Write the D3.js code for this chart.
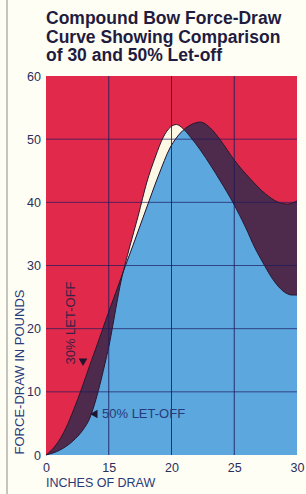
<!DOCTYPE html>
<html>
<head>
<meta charset="utf-8">
<script src="https://cdn.jsdelivr.net/npm/d3@7"></script>
<style>
  html, body { margin: 0; padding: 0; background: #fffef4; }
  svg { display: block; }
  text { font-family: "Liberation Sans", Arial, Helvetica, sans-serif; }
</style>
</head>
<body>
<svg id="chart" width="306" height="494"></svg>
<script>
// ---- data ----
const titleLines = ["Compound Bow Force-Draw", "Curve Showing Comparison", "of 30 and 50% Let-off"];
const xTicks = [0, 15, 20, 25, 30];
const yTicks = [0, 10, 20, 30, 40, 50, 60];

// 30% let-off curve (inches of draw, pounds)
const draw30  = [0, 2.38, 4.76, 6.67, 8.57, 10.48, 12.38, 14.29, 15.4, 15.89, 16.29, 16.94, 17.98, 18.95, 19.92, 20.71, 21.51, 22.3, 23.1, 23.89, 25.0, 26.29, 27.5, 28.47, 29.27, 30];
const force30 = [0, 1.58, 4.27, 7.28, 10.61, 14.25, 17.73, 21.37, 24.85, 27.54, 29.76, 33.24, 38.94, 44.17, 48.76, 50.97, 52.24, 52.71, 51.76, 49.87, 46.7, 43.69, 41.32, 40.05, 39.73, 40.21];

// 50% let-off curve
const draw50  = [0, 3.33, 6.43, 8.81, 10.48, 11.9, 13.1, 14.29, 15.08, 15.4, 15.73, 16.05, 16.29, 16.69, 17.34, 18.04, 18.71, 19.35, 19.92, 20.4, 20.95, 21.51, 22.3, 23.1, 23.89, 24.92, 25.89, 26.69, 27.26, 27.9, 28.55, 29.11, 29.6, 30];
const force50 = [0, 0.79, 2.22, 3.96, 5.86, 8.71, 11.71, 15.04, 17.89, 21.37, 25.01, 28.18, 30.08, 33.09, 37.83, 43.22, 47.17, 50.34, 51.92, 52.32, 51.61, 50.34, 48.28, 45.9, 43.38, 39.89, 36.09, 32.61, 30.55, 28.34, 26.6, 25.65, 25.33, 25.33];

const yLabel = "FORCE-DRAW IN POUNDS";
const xLabel = "INCHES OF DRAW";
const label30 = "30% LET-OFF";
const label50 = "50% LET-OFF";

// ---- layout ----
const svg = d3.select("#chart");
const pLeft = 46, pRight = 297, pTop = 76, pBottom = 455;
const step = (pRight - pLeft) / (xTicks.length - 1);

const x = d3.scaleLinear().domain(xTicks).range(xTicks.map((d, i) => pLeft + i * step));
const y = d3.scaleLinear().domain([0, 60]).range([pBottom, pTop]);

const C = {
  red: "#e12a4b", blue: "#5ba7de", purple: "#4e2a4c", white: "#fdf8e4",
  grid: "#1e1a5c", ink: "#1f1c40", outline: "#2a1830"
};

const pts30 = draw30.map((d, i) => [d, force30[i]]);
const pts50 = draw50.map((d, i) => [d, force50[i]]);

// left page border
svg.append("line").attr("x1", 7).attr("x2", 7).attr("y1", 0).attr("y2", 494)
  .attr("stroke", "#8c8c88").attr("stroke-width", 1);

// title
svg.append("g").selectAll("text").data(titleLines).join("text")
  .attr("x", 46).attr("y", (d, i) => 24 + i * 18.5)
  .attr("font-size", 17.5).attr("font-weight", "bold").attr("fill", C.ink)
  .text(d => d);

// plot background
svg.append("rect").attr("x", pLeft).attr("y", pTop)
  .attr("width", pRight - pLeft).attr("height", pBottom - pTop).attr("fill", C.red);

const area = d3.area().x(d => x(d[0])).y0(y(0)).y1(d => y(d[1])).curve(d3.curveMonotoneX);
const line = d3.line().x(d => x(d[0])).y(d => y(d[1])).curve(d3.curveMonotoneX);

const defs = svg.append("defs");
defs.append("clipPath").attr("id", "under30").append("path").attr("d", area(pts30));

svg.append("path").attr("d", area(pts50)).attr("fill", C.white);
svg.append("path").attr("d", area(pts30)).attr("fill", C.purple);
svg.append("path").attr("d", area(pts50)).attr("fill", C.blue).attr("clip-path", "url(#under30)");

svg.append("path").attr("d", line(pts30)).attr("fill", "none").attr("stroke", C.outline).attr("stroke-width", 1);
svg.append("path").attr("d", line(pts50)).attr("fill", "none").attr("stroke", C.outline).attr("stroke-width", 1);

// gridlines
const g = svg.append("g");
g.selectAll(".vg").data(xTicks.slice(1, -1)).join("line")
  .attr("x1", d => x(d)).attr("x2", d => x(d)).attr("y1", pTop).attr("y2", pBottom)
  .attr("stroke", C.grid).attr("stroke-opacity", 0.85).attr("stroke-width", 1);
g.selectAll(".hg").data(yTicks.slice(1, -1)).join("line")
  .attr("x1", pLeft).attr("x2", pRight).attr("y1", d => y(d)).attr("y2", d => y(d))
  .attr("stroke", C.grid).attr("stroke-opacity", 0.7).attr("stroke-width", 1);

// axes
const yAxis = svg.append("g").attr("transform", `translate(${pLeft},0)`)
  .call(d3.axisLeft(y).tickValues(yTicks).tickSize(0).tickPadding(5));
const xAxis = svg.append("g").attr("transform", `translate(0,${pBottom})`)
  .call(d3.axisBottom(x).tickValues(xTicks).tickSize(0).tickPadding(8));
[yAxis, xAxis].forEach(a => {
  a.select(".domain").remove();
  a.selectAll("text").attr("font-size", 12.5).attr("fill", "#2b2d5a")
    .attr("font-family", "'Liberation Sans', Arial, sans-serif");
});

// axis titles
svg.append("text").attr("x", pLeft).attr("y", 487)
  .attr("font-size", 12.5).attr("fill", "#283a7a").text(xLabel);
svg.append("text").attr("transform", "translate(24,372) rotate(-90)")
  .attr("text-anchor", "middle").attr("font-size", 13).attr("fill", "#283a7a").text(yLabel);

// in-plot labels
svg.append("text").attr("transform", "translate(75,323) rotate(-90)")
  .attr("text-anchor", "middle").attr("font-size", 13).attr("fill", "#3a1f45").text(label30);
svg.append("path").attr("d", d3.symbol(d3.symbolTriangle, 32)())
  .attr("transform", "translate(83,361) rotate(180)").attr("fill", "#1e1530");

svg.append("text").attr("x", 102).attr("y", 418)
  .attr("font-size", 13).attr("fill", "#283a7a").text(label50);
svg.append("path").attr("d", d3.symbol(d3.symbolTriangle, 32)())
  .attr("transform", "translate(95,414) rotate(-90)").attr("fill", "#1e1530");
</script>
</body>
</html>
